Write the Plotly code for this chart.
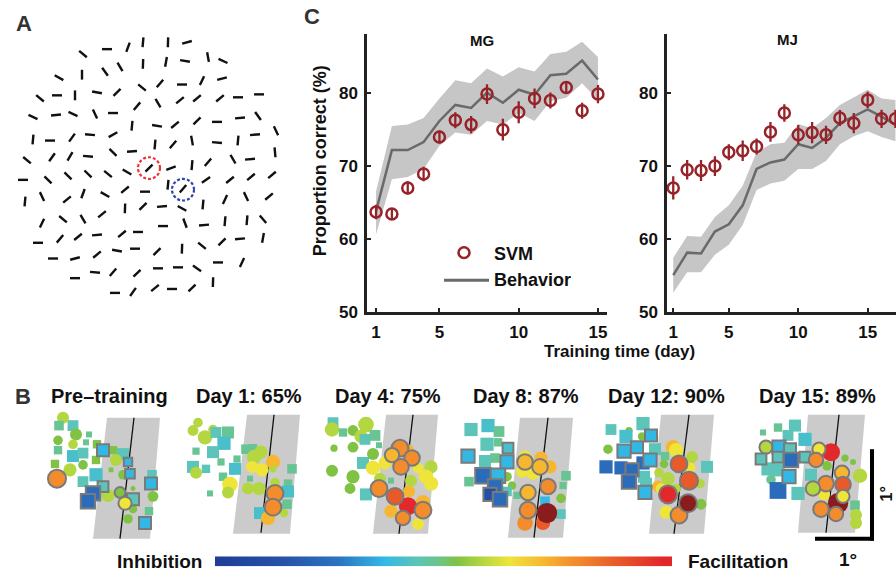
import numpy as np
import plotly.graph_objects as go

W, H = 896, 585
FONT = "Liberation Sans, Arial, sans-serif"

# ---------------- Panel C data ----------------
days_mg = list(range(1, 16))
svm_mg = [63.7, 63.4, 67.0, 68.9, 74.0, 76.3, 75.7, 79.9, 75.0, 77.4, 79.3, 79.0, 80.8, 77.6, 79.9]
svm_mg_err = [1.0, 0.8, 0.9, 1.0, 0.9, 1.1, 1.2, 1.35, 1.5, 1.5, 1.35, 1.1, 0.9, 1.1, 1.25]
beh_mg = [63.8, 72.2, 72.2, 73.3, 76.2, 78.4, 78.0, 80.1, 78.7, 80.5, 79.8, 82.5, 82.7, 84.5, 81.9]
beh_mg_hi = [66.5, 75.5, 75.7, 76.6, 79.3, 81.8, 81.4, 83.4, 82.3, 83.6, 83.0, 85.4, 85.7, 87.1, 85.0]
beh_mg_lo = [60.6, 68.2, 68.5, 69.6, 72.8, 74.6, 74.3, 76.2, 75.7, 77.3, 76.2, 78.9, 79.4, 81.4, 79.1]

days_mj = list(range(1, 18))
svm_mj = [67.0, 69.5, 69.4, 70.0, 71.9, 72.1, 72.7, 74.7, 77.3, 74.3, 74.6, 74.3, 76.6, 75.9, 79.1, 76.5, 76.5]
svm_mj_err = [1.6, 1.35, 1.45, 1.35, 1.1, 1.4, 1.1, 1.35, 1.2, 1.35, 1.45, 1.25, 1.1, 1.4, 1.1, 1.25, 1.25]
beh_mj = [55.0, 58.1, 58.0, 61.0, 62.0, 64.6, 69.6, 70.5, 70.9, 73.0, 72.5, 73.9, 75.9, 76.8, 77.8, 76.8, 75.7]
beh_mj_hi = [57.4, 60.4, 60.3, 63.0, 64.6, 67.3, 71.9, 73.0, 73.2, 75.8, 75.2, 76.6, 78.4, 79.5, 80.5, 79.3, 79.1]
beh_mj_lo = [52.6, 55.4, 55.4, 57.8, 59.2, 61.9, 66.7, 67.6, 68.0, 69.6, 69.6, 70.7, 73.0, 74.1, 74.8, 74.0, 73.4]

x_ticks = [1, 5, 10, 15]
y_ticks = [50, 60, 70, 80]

# ---------------- Panel A data (image pixel coords, angle in degrees) ----------------
seg_x = [83, 107, 128, 143, 168, 187,
         143, 166, 185, 208, 223,
         59, 82, 105, 120, 142, 160, 182, 202, 222,
         40, 57, 75, 97, 117, 137, 158, 180, 197, 220, 238, 259,
         33, 56, 73, 95, 113, 132, 157, 175, 197, 217, 240, 258,
         33, 50, 72, 90, 113, 155, 173, 192, 217, 238, 255, 276,
         27, 52, 70, 88, 113, 132, 149, 171, 192, 208, 233, 250, 275,
         23, 48, 68, 88, 108, 127, 168, 183, 206, 230, 251, 272,
         25, 42, 67, 83, 105, 125, 145, 125, 143, 162, 182, 203, 225, 246, 269,
         42, 63, 83, 102, 163, 185, 204, 225, 247, 263,
         38, 60, 78, 97, 122, 138, 157, 182, 202, 222, 240, 263,
         53, 75, 97, 117, 135, 113, 137, 158, 178, 197, 218, 242,
         75, 95, 155, 172, 192, 213, 115, 133]
seg_y = [55, 50, 48, 43, 43, 43,
         65, 63, 62, 58, 62,
         79, 76, 73, 68, 89, 85, 86, 82, 80,
         100, 97, 97, 94, 94, 108, 105, 102, 100, 100, 99, 96,
         119, 117, 116, 116, 115, 128, 128, 127, 123, 124, 120, 118,
         142, 143, 140, 137, 137, 147, 147, 143, 145, 143, 137, 133,
         163, 160, 159, 159, 155, 154, 171, 171, 168, 165, 162, 162, 155,
         183, 183, 179, 177, 177, 175, 188, 192, 183, 183, 180, 178,
         205, 200, 203, 197, 198, 193, 195, 212, 210, 210, 212, 208, 203, 200, 200,
         227, 223, 223, 218, 230, 227, 229, 225, 224, 223,
         247, 243, 241, 239, 238, 236, 256, 253, 250, 246, 243, 242,
         263, 263, 259, 255, 253, 277, 278, 273, 272, 273, 267, 267,
         283, 277, 293, 294, 293, 287, 298, 297]
seg_angle = [-40, 0, 70, 85, 88, 15,
             88, 80, -10, -80, -25,
             -30, 90, -55, -60, -40, 50, 0, 65, 15,
             -40, 0, 90, -10, 45, 50, -60, 40, 40, 40, 0, 0,
             -25, 5, -25, -65, 0, 85, -10, 40, 45, 0, 5, -55,
             85, 0, 55, -5, 30, 85, 50, -80, -5, 85, 5, -65,
             -40, 55, 60, -5, -45, 5, 45, 20, 85, 50, -60, 5, -85,
             0, -45, -45, -45, -40, -30, 85, 50, 35, 40, 40, 40,
             85, -65, 40, 70, -30, 40, 0, 88, 45, 5, -30, 85, 65, -65, 40,
             65, -40, -60, 40, 0, -70, 5, 85, 85, -50,
             0, 50, 40, 5, 40, 0, 45, 88, -40, 45, 5, 80,
             0, 15, 40, -10, 0, 50, 45, 0, 0, -35, 0, 65,
             0, -5, 40, 0, 45, 88, 0, 55]
red_ring = (149, 171)
blue_ring = (183, 193)

# ---------------- Panel B data ----------------
b_titles = ["Pre–training", "Day 1: 65%", "Day 4: 75%", "Day 8: 87%", "Day 12: 90%", "Day 15: 89%"]
b_title_x = [109, 249, 388, 526, 666, 817]
b_origin_x = [40, 180, 318, 455, 596, 748]
b_origin_y = 415
# band: (top-left x, top-right x, top y, bottom-left x, bottom-right x, bottom y) local px
b_band = [(67, 120, 10, 53, 110, 133), (67, 120, 7, 53, 110, 128), (68, 120, 7, 55, 110, 128),
          (65, 118, 10, 53, 108, 132), (65, 118, 7, 53, 108, 128), (60, 117, 7, 50, 107, 127)]
b_midline = [(94, 10, 80, 133), (94, 7, 81, 127), (95, 7, 81, 128),
             (93, 10, 79, 132), (93, 7, 78, 128), (91, 7, 78, 127)]

# modulation index (0 = strongest inhibition, 1 = strong facilitation, >1 = strongest)
level = {'db': 0.12, 'b': 0.24, 'c': 0.37, 'ct': 0.41, 't': 0.44, 'tg': 0.48, 'g': 0.53,
         'yg': 0.585, 'y': 0.645, 'lo': 0.72, 'o': 0.79, 'ro': 0.88, 'r': 0.98, 'dr': 1.15}

# (x, y, size, level, shape, significant)
pre_markers = [
    (23, 10, 10, 'yg', 'c', 0), (19, 18, 8, 'tg', 's', 0), (33, 18, 9, 't', 's', 0),
    (36, 27, 10, 'g', 'c', 0), (49, 27, 5, 'tg', 's', 0), (18, 33, 8, 'g', 'c', 0),
    (33, 37, 8, 'yg', 'c', 0), (46, 35, 5, 'tg', 's', 0), (57, 37, 7, 'g', 's', 0),
    (18, 43, 7, 'tg', 's', 0), (33, 49, 10, 'ct', 's', 0), (43, 46, 9, 't', 's', 0),
    (63, 43, 10, 'c', 's', 1), (73, 43, 7, 'g', 's', 0), (83, 47, 10, 't', 's', 0),
    (56, 53, 7, 'g', 's', 0), (76, 53, 10, 'yg', 'c', 0), (88, 55, 7, 'c', 's', 1),
    (15, 57, 7, 'g', 's', 0), (30, 63, 11, 'yg', 'c', 0), (43, 58, 8, 'g', 'c', 0),
    (56, 68, 11, 'ct', 's', 0), (71, 63, 4, 'g', 's', 0), (83, 68, 8, 'g', 'c', 0),
    (90, 67, 8, 'c', 's', 1), (17, 72, 15, 'o', 'c', 1), (43, 75, 9, 't', 's', 0),
    (63, 80, 9, 't', 's', 1), (93, 82, 4, 'g', 'c', 0), (112, 68, 8, 't', 's', 0),
    (111, 77, 10, 'c', 's', 1), (53, 87, 12, 'b', 's', 1), (48, 95, 12, 'b', 's', 1),
    (68, 89, 11, 'yg', 'c', 0), (80, 86, 9, 'g', 'c', 1), (93, 93, 10, 't', 's', 1),
    (85, 97, 11, 'y', 'c', 1), (113, 90, 9, 'g', 'c', 0), (93, 103, 7, 'g', 'c', 0),
    (109, 105, 7, 'tg', 's', 0), (88, 113, 8, 'g', 'c', 0), (105, 117, 10, 'c', 's', 1)]
d1_markers = [
    (18, 15, 8, 'yg', 'c', 0), (13, 23, 9, 'yg', 'c', 0), (25, 30, 12, 'yg', 'c', 0),
    (33, 22, 8, 'yg', 'c', 0), (36, 25, 9, 't', 's', 0), (48, 25, 10, 'tg', 's', 0),
    (44, 36, 11, 'ct', 's', 0), (16, 44, 6, 'tg', 's', 0), (33, 45, 10, 't', 's', 0),
    (41, 55, 6, 'tg', 's', 0), (57, 52, 6, 'tg', 's', 0), (66, 42, 8, 'tg', 's', 0),
    (73, 41, 7, 'tg', 's', 0), (74, 50, 12, 'yg', 'c', 0), (81, 45, 11, 'yg', 'c', 0),
    (93, 55, 12, 'lo', 'c', 0), (13, 60, 10, 't', 's', 0), (16, 66, 10, 'yg', 'c', 0),
    (26, 62, 7, 't', 's', 0), (55, 62, 10, 'ct', 's', 0), (72, 60, 10, 'y', 'c', 0),
    (82, 63, 11, 'y', 'c', 0), (93, 62, 6, 'yg', 'c', 0), (112, 62, 8, 'tg', 's', 0),
    (43, 70, 7, 'tg', 's', 0), (70, 72, 5, 'tg', 's', 0), (95, 76, 8, 'yg', 'c', 0),
    (108, 77, 7, 'tg', 's', 0), (50, 78, 13, 'y', 'c', 0), (68, 82, 10, 'yg', 'c', 0),
    (79, 82, 11, 'yg', 'c', 0), (48, 86, 10, 'yg', 'c', 0), (30, 87, 5, 'tg', 's', 0),
    (108, 85, 10, 'ct', 's', 0), (107, 98, 8, 'tg', 's', 0), (104, 107, 7, 'yg', 'c', 0),
    (80, 107, 10, 'ct', 's', 0), (88, 112, 12, 'lo', 'c', 0),
    (95, 87, 14, 'o', 'c', 1), (93, 101, 14, 'o', 'c', 1)]
d4_markers = [
    (15, 15, 9, 't', 's', 0), (14, 22, 12, 'yg', 'c', 0), (25, 25, 7, 'tg', 's', 0),
    (35, 23, 9, 'g', 'c', 0), (48, 17, 13, 'yg', 'c', 0), (43, 29, 11, 'yg', 'c', 0),
    (47, 32, 9, 't', 's', 0), (57, 28, 9, 'tg', 's', 0), (16, 41, 6, 'g', 'c', 0),
    (35, 40, 9, 'g', 'c', 0), (61, 38, 5, 'tg', 's', 0), (55, 47, 10, 'g', 'c', 0),
    (90, 43, 10, 'lo', 'c', 0), (45, 56, 10, 't', 's', 0), (55, 61, 12, 'y', 'c', 0),
    (67, 56, 11, 'y', 'c', 0), (100, 61, 9, 'y', 'c', 0), (113, 60, 11, 'yg', 'c', 0),
    (14, 64, 10, 'g', 'c', 0), (35, 70, 11, 'g', 'c', 0), (62, 72, 10, 'yg', 'c', 0),
    (73, 74, 5, 'tg', 's', 0), (93, 74, 10, 'yg', 'c', 0), (108, 70, 12, 'y', 'c', 0),
    (113, 77, 12, 'y', 'c', 0), (32, 82, 9, 'g', 'c', 0), (48, 88, 10, 't', 's', 0),
    (91, 85, 10, 'lo', 'c', 0), (105, 96, 12, 'lo', 'c', 0), (73, 105, 11, 'lo', 'c', 0),
    (100, 118, 10, 'y', 'c', 0),
    (82, 41, 14, 'o', 'c', 1), (74, 48, 12, 'lo', 'c', 1), (94, 51, 13, 'o', 'c', 1),
    (83, 60, 13, 'o', 'c', 1), (61, 82, 14, 'o', 'c', 1), (77, 90, 14, 'ro', 'c', 1),
    (105, 104, 14, 'o', 'c', 1), (85, 112, 12, 'o', 'c', 1), (90, 100, 15, 'r', 'c', 0)]
d8_markers = [
    (16, 22, 11, 't', 's', 0), (33, 18, 11, 'ct', 's', 0), (44, 24, 9, 'tg', 's', 0),
    (32, 37, 11, 't', 's', 0), (43, 35, 7, 'tg', 's', 0), (30, 54, 10, 't', 's', 0),
    (40, 51, 8, 'tg', 's', 0), (70, 50, 11, 'y', 'c', 0), (86, 51, 11, 'lo', 'c', 0),
    (95, 60, 11, 'lo', 'c', 0), (78, 66, 12, 'y', 'c', 0), (67, 65, 10, 'y', 'c', 0),
    (52, 70, 8, 'g', 'c', 0), (14, 75, 8, 'tg', 's', 0), (57, 79, 7, 'g', 'c', 0),
    (111, 69, 8, 'tg', 's', 0), (108, 79, 6, 'tg', 's', 0), (52, 85, 8, 't', 's', 0),
    (62, 89, 6, 'tg', 's', 0), (106, 92, 8, 'g', 'c', 0), (90, 95, 8, 'c', 's', 0),
    (106, 108, 8, 't', 's', 0), (70, 117, 13, 'o', 'c', 0), (88, 117, 12, 'ro', 'c', 0),
    (53, 41, 9, 'ct', 's', 1), (13, 49, 11, 'c', 's', 1), (52, 55, 11, 'c', 's', 1),
    (70, 55, 13, 'lo', 'c', 1), (85, 60, 13, 'lo', 'c', 1), (28, 69, 13, 'b', 's', 1),
    (43, 69, 12, 'c', 's', 1), (40, 80, 12, 'b', 's', 1), (93, 80, 13, 'o', 'c', 1),
    (73, 86, 13, 'lo', 'c', 1), (35, 88, 11, 'db', 's', 1), (45, 93, 12, 'b', 's', 1),
    (73, 104, 14, 'o', 'c', 1), (92, 107, 17, 'dr', 'c', 0)]
d12_markers = [
    (15, 22, 9, 't', 's', 0), (47, 16, 11, 't', 's', 0), (33, 23, 6, 'g', 'c', 0),
    (30, 29, 11, 'ct', 's', 0), (46, 29, 7, 'g', 'c', 0), (12, 42, 8, 'g', 'c', 0),
    (59, 42, 10, 't', 's', 0), (77, 40, 12, 'lo', 'c', 0), (80, 43, 12, 'y', 'c', 0),
    (10, 60, 11, 'b', 's', 0), (25, 61, 11, 'b', 's', 0), (47, 56, 11, 'b', 's', 0),
    (69, 49, 7, 'tg', 's', 0), (96, 50, 10, 'yg', 'c', 0), (94, 61, 9, 'y', 'c', 0),
    (111, 60, 10, 't', 's', 0), (68, 57, 7, 'g', 'c', 0), (63, 66, 8, 'yg', 'c', 0),
    (48, 70, 10, 't', 's', 0), (72, 72, 11, 'yg', 'c', 0), (104, 77, 8, 'yg', 'c', 0),
    (50, 77, 10, 't', 's', 0), (62, 80, 10, 'lo', 'c', 0), (65, 82, 9, 'y', 'c', 0),
    (80, 82, 8, 'yg', 'c', 0), (105, 98, 9, 'g', 'c', 0), (70, 106, 11, 'y', 'c', 0),
    (55, 28, 10, 'c', 's', 1), (41, 40, 10, 'c', 's', 1), (28, 44, 11, 'c', 's', 1),
    (36, 63, 11, 'b', 's', 1), (54, 53, 11, 'c', 's', 1), (83, 57, 14, 'ro', 'c', 1),
    (33, 75, 12, 'b', 's', 1), (93, 74, 15, 'ro', 'c', 1), (49, 86, 11, 'c', 's', 1),
    (72, 88, 15, 'r', 'c', 1), (83, 109, 14, 'o', 'c', 1), (92, 97, 15, 'dr', 'c', 1)]
d15_markers = [
    (15, 25, 5, 'tg', 's', 0), (30, 20, 7, 'tg', 's', 0), (47, 18, 10, 't', 's', 0),
    (57, 32, 11, 'ct', 's', 0), (40, 28, 9, 't', 's', 0), (79, 59, 8, 'g', 'c', 0),
    (97, 51, 6, 'g', 'c', 0), (105, 55, 5, 'g', 'c', 0), (20, 62, 11, 't', 's', 0),
    (30, 63, 11, 't', 's', 0), (23, 73, 8, 'tg', 'c', 0), (63, 68, 10, 't', 's', 0),
    (112, 69, 12, 'yg', 'c', 0), (30, 84, 14, 'b', 's', 0), (50, 87, 11, 't', 's', 0),
    (76, 88, 10, 'y', 'c', 0), (107, 99, 8, 'tg', 's', 0), (108, 109, 10, 'yg', 'c', 0),
    (108, 117, 10, 'yg', 'c', 0), (83, 45, 15, 'r', 'c', 0),
    (18, 40, 11, 'yg', 'c', 1), (31, 40, 11, 'c', 's', 1), (42, 42, 10, 't', 's', 1),
    (13, 52, 9, 't', 's', 1), (30, 50, 9, 't', 's', 1), (43, 53, 12, 'b', 's', 1),
    (57, 50, 9, 't', 's', 1), (71, 42, 11, 'y', 'c', 1), (68, 53, 12, 'o', 'c', 1),
    (41, 70, 11, 'c', 's', 1), (94, 66, 12, 'lo', 'c', 1), (78, 77, 13, 'o', 'c', 1),
    (95, 78, 13, 'ro', 'c', 1), (65, 82, 12, 'yg', 'c', 1), (95, 90, 11, 'y', 'c', 1),
    (73, 103, 13, 'o', 'c', 1), (88, 108, 12, 'o', 'c', 1), (90, 97, 17, 'dr', 'c', 0)]
b_markers = [pre_markers, d1_markers, d4_markers, d8_markers, d12_markers, d15_markers]

# colour scale (defined on 0..1.15)
cs_stops = [(0.0, '#1f3d96'), (0.15, '#2553a8'), (0.27, '#2b74c0'), (0.37, '#33b8e6'),
            (0.44, '#5cc4b8'), (0.49, '#6cc48a'), (0.53, '#80c244'), (0.585, '#b4d640'),
            (0.645, '#eee43a'), (0.72, '#f7b630'), (0.79, '#f28c2c'), (0.88, '#e85a2a'),
            (0.98, '#e2282a'), (1.0, '#e2262a'), (1.15, '#8a1c1e')]
CMAX = 1.15
colorscale = [[v / CMAX, c] for v, c in cs_stops]

# ---------------- styles ----------------
SVM_COLOR = '#97232a'
BEH_COLOR = '#6a6a6a'
SHADE = '#c6c6c6'
BAND = '#cbcbcb'
MARKER_SCALE = 1.2

fig = go.Figure()

# ---------- Panel C ----------
for days, svm, err, beh, hi, lo, xa, ya in [
        (days_mg, svm_mg, svm_mg_err, beh_mg, beh_mg_hi, beh_mg_lo, 'x', 'y'),
        (days_mj, svm_mj, svm_mj_err, beh_mj, beh_mj_hi, beh_mj_lo, 'x2', 'y2')]:
    fig.add_trace(go.Scatter(x=days + days[::-1], y=hi + lo[::-1], fill='toself',
                             fillcolor=SHADE, line=dict(width=0), mode='lines',
                             xaxis=xa, yaxis=ya, showlegend=False, hoverinfo='skip'))
    fig.add_trace(go.Scatter(x=days, y=beh, mode='lines', line=dict(color=BEH_COLOR, width=2.5),
                             xaxis=xa, yaxis=ya, showlegend=False))
    fig.add_trace(go.Scatter(x=days, y=svm, mode='markers',
                             marker=dict(symbol='circle-open', size=11, color=SVM_COLOR,
                                         line=dict(width=2.5, color=SVM_COLOR)),
                             error_y=dict(type='data', array=err, color=SVM_COLOR,
                                          thickness=2.3, width=0),
                             xaxis=xa, yaxis=ya, showlegend=False))

# ---------- Panel A ----------
SEG_L = 10
sx, sy = [], []
for x, y, a in zip(seg_x, seg_y, seg_angle):
    r = np.deg2rad(a)
    dx, dy = SEG_L / 2 * np.cos(r), SEG_L / 2 * np.sin(r)
    sx += [x - dx, x + dx, None]
    sy += [y + dy, y - dy, None]
fig.add_trace(go.Scatter(x=sx, y=sy, mode='lines', line=dict(color='#111111', width=2.4),
                         xaxis='x3', yaxis='y3', showlegend=False, hoverinfo='skip'))

# ---------- Panel B ----------
for k in range(6):
    ox, oy = b_origin_x[k], b_origin_y
    tl, tr, ty, bl, br, by = b_band[k]
    fig.add_trace(go.Scatter(x=[ox + tl, ox + tr, ox + br, ox + bl, ox + tl],
                             y=[oy + ty, oy + ty, oy + by, oy + by, oy + ty],
                             fill='toself', fillcolor=BAND, line=dict(width=0), mode='lines',
                             xaxis='x3', yaxis='y3', showlegend=False, hoverinfo='skip'))
    x0, y0, x1, y1 = b_midline[k]
    fig.add_trace(go.Scatter(x=[ox + x0, ox + x1], y=[oy + y0, oy + y1], mode='lines',
                             line=dict(color='#111111', width=1.3),
                             xaxis='x3', yaxis='y3', showlegend=False, hoverinfo='skip'))
    for sig in (0, 1):
        ms = [m for m in b_markers[k] if m[5] == sig]
        if not ms:
            continue
        fig.add_trace(go.Scatter(
            x=[ox + m[0] for m in ms], y=[oy + m[1] for m in ms], mode='markers',
            marker=dict(size=[m[2] * MARKER_SCALE for m in ms],
                        symbol=['circle' if m[4] == 'c' else 'square' for m in ms],
                        color=[level[m[3]] for m in ms], colorscale=colorscale,
                        cmin=0, cmax=CMAX,
                        line=dict(color='#7a7a7a', width=2 if sig else 0), opacity=1),
            xaxis='x3', yaxis='y3', showlegend=False, hoverinfo='skip'))

# colour bar
bar_vals = np.linspace(0, 1.0, 300)
fig.add_trace(go.Heatmap(z=[bar_vals], x=bar_vals, y=[0], colorscale=colorscale,
                         zmin=0, zmax=CMAX, showscale=False, xaxis='x4', yaxis='y4',
                         hoverinfo='skip'))

# ---------- layout ----------
def px_x(p):
    return p / W

def px_y(p):
    return 1 - p / H

tickfont = dict(family=FONT, size=17, color='#111111', weight='bold')
common_x = dict(showgrid=False, zeroline=False, showline=True, linecolor='#222222', linewidth=2.5,
                ticks='inside', ticklen=4, tickwidth=2, tickcolor='#222222', tickvals=x_ticks,
                tickfont=tickfont, ticklabelstandoff=3)
common_y = dict(showgrid=False, zeroline=False, showline=True, linecolor='#222222', linewidth=2.5,
                ticks='inside', ticklen=4, tickwidth=2, tickcolor='#222222', tickvals=y_ticks,
                tickfont=tickfont, range=[50, 88.1], ticklabelstandoff=3)

fig.update_layout(
    width=W, height=H, margin=dict(l=0, r=0, t=0, b=0),
    paper_bgcolor='white', plot_bgcolor='rgba(0,0,0,0)', showlegend=False,
    xaxis=dict(domain=[px_x(367), px_x(607)], range=[0.43, 15.57], anchor='y', **common_x),
    yaxis=dict(domain=[px_y(317), px_y(35)], anchor='x', **common_y),
    xaxis2=dict(domain=[px_x(667), 1.0], range=[0.55, 17.04], anchor='y2', **common_x),
    yaxis2=dict(domain=[px_y(317), px_y(35)], anchor='x2', **common_y),
    xaxis3=dict(domain=[0, 1], range=[0, W], visible=False, anchor='y3'),
    yaxis3=dict(domain=[0, 1], range=[H, 0], visible=False, anchor='x3'),
    xaxis4=dict(domain=[px_x(215), px_x(672)], visible=False, anchor='y4'),
    yaxis4=dict(domain=[px_y(576), px_y(566)], visible=False, anchor='x4'),
)

def txt(x, y, s, size, xanchor='center', angle=0, color='#111111'):
    fig.add_annotation(x=x, y=y, xref='x3', yref='y3', text=s, showarrow=False,
                       xanchor=xanchor, yanchor='middle', textangle=angle,
                       font=dict(family=FONT, size=size, color=color, weight='bold'))

txt(24, 24, 'A', 22, color='#333333')
txt(23, 403, 'B', 22, color='#333333')
txt(312, 17, 'C', 22, color='#333333')
txt(482, 41, 'MG', 15)
txt(787, 40, 'MJ', 15)
txt(320, 164, 'Proportion correct (%)', 18, angle=-90)
txt(619, 358, 'Training time (day)', 17)
txt(492, 258, 'SVM', 18, xanchor='left')
txt(492, 285, 'Behavior', 18, xanchor='left')
for t, xc in zip(b_titles, b_title_x):
    txt(xc, 403, t, 20)
txt(204, 571, 'Inhibition', 19, xanchor='right')
txt(686, 571, 'Facilitation', 19, xanchor='left')
txt(848, 569, '1°', 19)
txt(886, 503, '1°', 16, angle=-90)

# legend glyphs, rings, scale bar
fig.add_shape(type='circle', xref='x3', yref='y3', x0=464 - 5.5, x1=464 + 5.5, y0=257 - 5.5,
              y1=257 + 5.5, line=dict(color=SVM_COLOR, width=2.5))
fig.add_shape(type='line', xref='x3', yref='y3', x0=444, x1=489, y0=285, y1=285,
              line=dict(color=BEH_COLOR, width=3))
for (cx, cy), col in [(red_ring, '#e8343a'), (blue_ring, '#2c44b0')]:
    fig.add_shape(type='circle', xref='x3', yref='y3', x0=cx - 11, x1=cx + 11, y0=cy - 11,
                  y1=cy + 11, line=dict(color=col, width=2.2, dash='3px,2px'))
fig.add_shape(type='line', xref='x3', yref='y3', x0=872, x1=872, y0=457, y1=550,
              line=dict(color='black', width=4))
fig.add_shape(type='line', xref='x3', yref='y3', x0=815, x1=874, y0=548, y1=548,
              line=dict(color='black', width=4))

fig.write_html('out.html', config={'displayModeBar': False},
               post_script="document.body.style.margin='0';")
